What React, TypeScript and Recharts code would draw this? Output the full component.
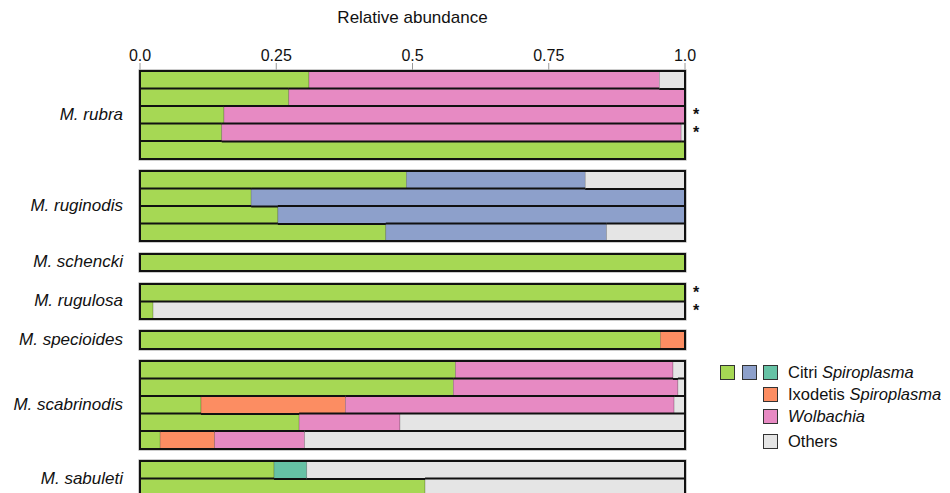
import React from "react";
import { BarChart, Bar, XAxis, YAxis } from "recharts";

// one entry per species, rows listed top to bottom
const SPECIES = ["M. rubra", "M. ruginodis", "M. schencki", "M. rugulosa", "M. specioides", "M. scabrinodis", "M. sabuleti"];
const ROW_COUNTS = [5, 4, 1, 2, 1, 5, 2];

// relative abundance per row (20 rows)
const CITRI_A = [0.31, 0.273, 0.154, 0.15, 1, 0.489, 0.204, 0.253, 0.451, 1, 1, 0.024, 0.955, 0.579, 0.575, 0.112, 0.292, 0.037, 0.246, 0.523];
const CITRI_B = [0, 0, 0, 0, 0, 0.328, 0.796, 0.747, 0.405, 0, 0, 0, 0, 0, 0, 0, 0, 0, 0, 0];
const CITRI_C = [0, 0, 0, 0, 0, 0, 0, 0, 0, 0, 0, 0, 0, 0, 0, 0, 0, 0, 0.06, 0];
const IXODETIS = [0, 0, 0, 0, 0, 0, 0, 0, 0, 0, 0, 0, 0.045, 0, 0, 0.265, 0, 0.1, 0, 0];
const WOLBACHIA = [0.643, 0.727, 0.846, 0.843, 0, 0, 0, 0, 0, 0, 0, 0, 0, 0.399, 0.412, 0.603, 0.185, 0.165, 0, 0];
const OTHERS = [0.047, 0, 0, 0.007, 0, 0.183, 0, 0, 0.144, 0, 0, 0.976, 0, 0.022, 0.013, 0.02, 0.523, 0.698, 0.694, 0.477];
const MARKS = ["", "", "*", "*", "", "", "", "", "", "", "*", "*", "", "", "", "", "", "", "", ""];

const X_TICKS = [0, 0.25, 0.5, 0.75, 1];
const X_TICK_LABELS = ["0.0", "0.25", "0.5", "0.75", "1.0"];

const SERIES = [
  { key: "citriA", values: CITRI_A, color: "#a6d854" },
  { key: "citriB", values: CITRI_B, color: "#8da0cb" },
  { key: "citriC", values: CITRI_C, color: "#66c2a5" },
  { key: "ixodetis", values: IXODETIS, color: "#fc8d62" },
  { key: "wolbachia", values: WOLBACHIA, color: "#e78ac3" },
  { key: "others", values: OTHERS, color: "#e5e5e5" },
];

const LEGEND = [
  { colors: ["#a6d854", "#8da0cb", "#66c2a5"], plain: "Citri ", italic: "Spiroplasma", top: 365 },
  { colors: ["#fc8d62"], plain: "Ixodetis ", italic: "Spiroplasma", top: 386.5 },
  { colors: ["#e78ac3"], plain: "", italic: "Wolbachia", top: 408.5 },
  { colors: ["#e5e5e5"], plain: "Others", italic: "", top: 434 },
];

const ROW_H = 17.5;
const GAP = 12.5;
const PLOT_TOP = 71;
const PLOT_LEFT = 140;
const PLOT_W = 545;
const AXIS_H = 71;

const rows = CITRI_A.map((_, i) => {
  const r: any = { id: "r" + i, mark: MARKS[i] };
  SERIES.forEach((s) => (r[s.key] = s.values[i]));
  return r;
});

function Segment(props: any) {
  const { x, y, width, height, fill } = props;
  if (!width || width <= 0) return <g />;
  return (
    <g>
      <rect x={x} y={y} width={width} height={height} fill={fill} stroke="rgba(0,0,0,0.3)" strokeWidth={0.6} />
      <line x1={x} x2={x + width} y1={y} y2={y} stroke="#111" strokeWidth={2} />
      <line x1={x} x2={x + width} y1={y + height} y2={y + height} stroke="#111" strokeWidth={2} />
    </g>
  );
}

export default function App() {
  let start = 0;
  let top = PLOT_TOP;
  const groups = SPECIES.map((name, g) => {
    const n = ROW_COUNTS[g];
    const grp = { name, g, top, h: n * ROW_H, data: rows.slice(start, start + n) };
    start += n;
    top += n * ROW_H + GAP;
    return grp;
  });

  return (
    <div
      style={{
        position: "absolute",
        left: 0,
        top: 0,
        width: 950,
        height: 493,
        overflow: "hidden",
        background: "#fff",
        fontFamily: "'Liberation Sans', Arial, sans-serif",
        color: "#111",
      }}
    >
      {groups.map((grp) => {
        const first = grp.g === 0;
        const chartH = first ? AXIS_H + grp.h : grp.h;
        return (
          <React.Fragment key={grp.name}>
            <div style={{ position: "absolute", left: PLOT_LEFT - 20, top: first ? 0 : grp.top }}>
              <BarChart
                layout="vertical"
                width={20 + PLOT_W + 30}
                height={chartH}
                data={grp.data}
                margin={{ top: 0, right: 0, bottom: 0, left: 20 }}
                barCategoryGap={0}
                barGap={0}
              >
                <XAxis
                  type="number"
                  domain={[0, 1]}
                  allowDataOverflow
                  ticks={X_TICKS}
                  interval={0}
                  orientation="top"
                  height={AXIS_H}
                  hide={!first}
                  axisLine={false}
                  tickSize={8}
                  tickLine={{ stroke: "#999" }}
                  tick={{ fontSize: 16, fill: "#111" }}
                  tickFormatter={(v: number) => X_TICK_LABELS[X_TICKS.indexOf(v)]}
                  label={{ value: "Relative abundance", position: "insideTop", offset: 11, fontSize: 17, fill: "#111" }}
                />
                <YAxis
                  type="category"
                  dataKey="id"
                  orientation="right"
                  width={30}
                  interval={0}
                  axisLine={false}
                  tickLine={false}
                  tick={{ fontSize: 16, fill: "#111", fontWeight: 600 }}
                  tickFormatter={(id: string) => MARKS[Number(id.slice(1))]}
                />
                {SERIES.map((s) => (
                  <Bar key={s.key} dataKey={s.key} stackId="a" fill={s.color} isAnimationActive={false} shape={<Segment />} />
                ))}
              </BarChart>
            </div>
            <div
              style={{
                position: "absolute",
                left: PLOT_LEFT - 1,
                top: grp.top - 1,
                width: PLOT_W + 2,
                height: grp.h + 2,
                border: "2px solid #111",
                boxSizing: "border-box",
                boxShadow: "0 0 0 0.6px #aaa",
                pointerEvents: "none",
              }}
            />
            <div
              style={{
                position: "absolute",
                left: 0,
                width: 123,
                top: grp.top,
                height: grp.h,
                display: "flex",
                alignItems: "center",
                justifyContent: "flex-end",
                fontStyle: "italic",
                fontSize: 17,
              }}
            >
              {grp.name}
            </div>
          </React.Fragment>
        );
      })}

      {LEGEND.map((item) => (
        <div key={item.plain + item.italic} style={{ position: "absolute", top: item.top, left: 0, height: 15 }}>
          {item.colors.map((c, k) => (
            <div
              key={c}
              style={{
                position: "absolute",
                left: 763 - (item.colors.length - 1 - k) * 21.5,
                top: 0,
                width: 15,
                height: 15,
                background: c,
                border: "1px solid #333",
                boxSizing: "border-box",
              }}
            />
          ))}
          <div
            style={{
              position: "absolute",
              left: 788,
              top: -2,
              lineHeight: "19px",
              fontSize: 16.5,
              whiteSpace: "nowrap",
            }}
          >
            {item.plain}
            {item.italic && <i>{item.italic}</i>}
          </div>
        </div>
      ))}
    </div>
  );
}
